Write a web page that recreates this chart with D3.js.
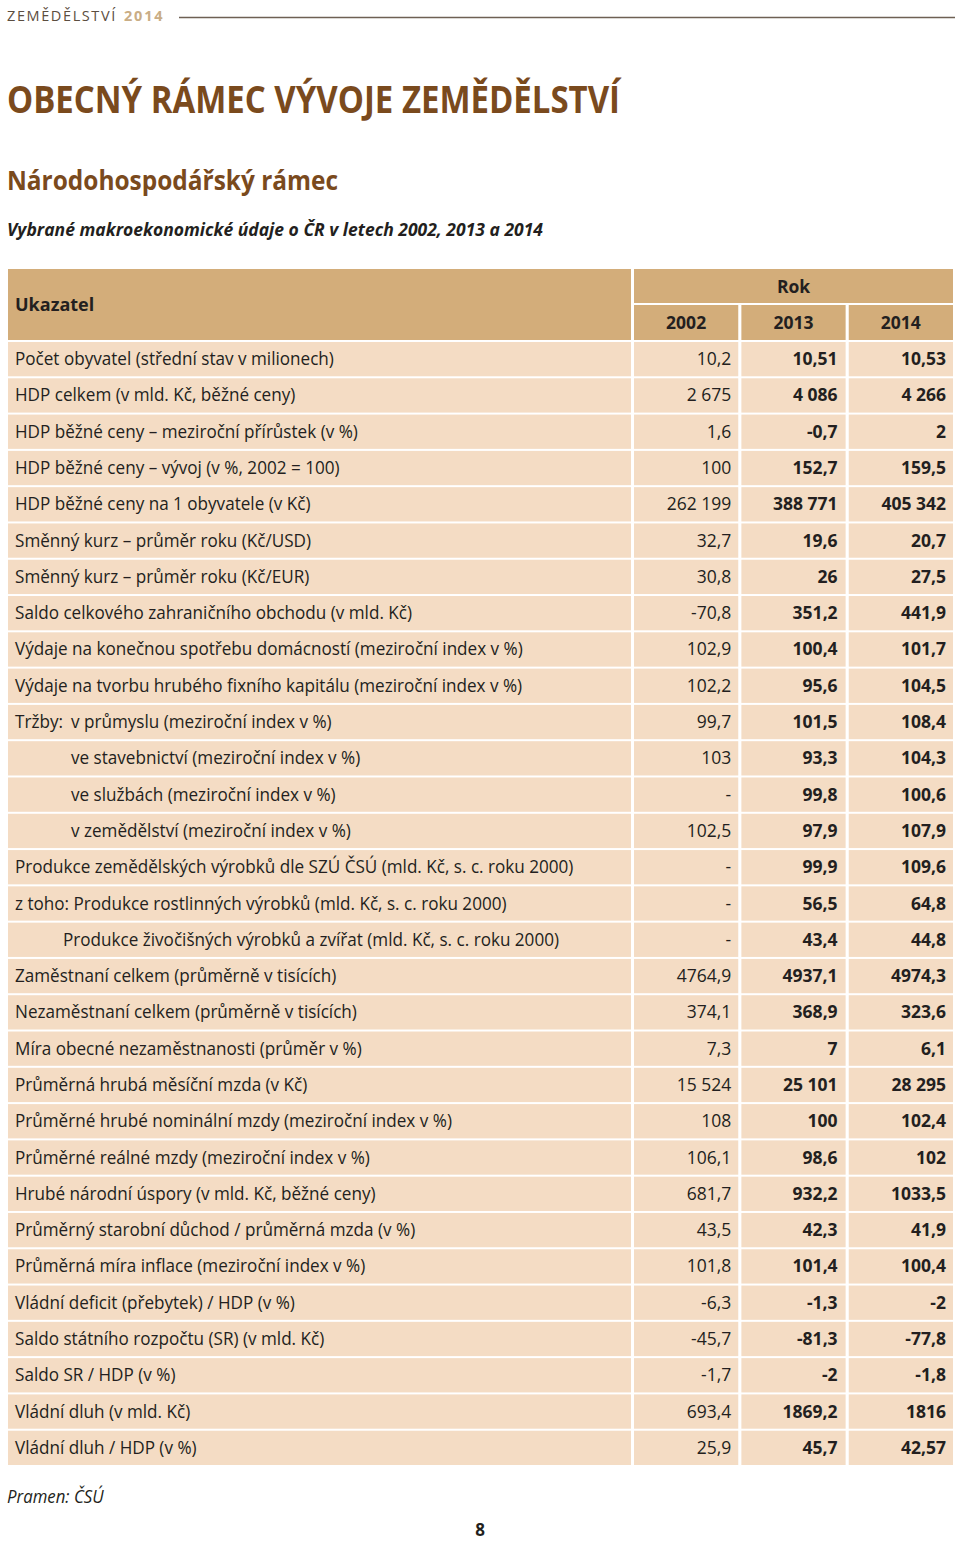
<!DOCTYPE html>
<html>
<head>
<meta charset="utf-8">
<script src="https://cdn.jsdelivr.net/npm/d3@7"></script>
<style>
  html, body { margin: 0; padding: 0; background: #fff; }
  svg { display: block; }
  text { font-family: "Open Sans", "Noto Sans", sans-serif; }
</style>
</head>
<body>
<svg id="chart" width="960" height="1541"></svg>
<script>
// ---------- DATA ----------
const years = ["2002", "2013", "2014"];

const indicators = [
  "Počet obyvatel (střední stav v milionech)",
  "HDP celkem (v mld. Kč, běžné ceny)",
  "HDP běžné ceny – meziroční přírůstek (v %)",
  "HDP běžné ceny – vývoj (v %, 2002 = 100)",
  "HDP běžné ceny na 1 obyvatele (v Kč)",
  "Směnný kurz – průměr roku (Kč/USD)",
  "Směnný kurz – průměr roku (Kč/EUR)",
  "Saldo celkového zahraničního obchodu (v mld. Kč)",
  "Výdaje na konečnou spotřebu domácností (meziroční index v %)",
  "Výdaje na tvorbu hrubého fixního kapitálu (meziroční index v %)",
  "Tržby:|v průmyslu (meziroční index v %)",
  "ve stavebnictví (meziroční index v %)",
  "ve službách (meziroční index v %)",
  "v zemědělství (meziroční index v %)",
  "Produkce zemědělských výrobků dle SZÚ ČSÚ (mld. Kč, s. c. roku 2000)",
  "z toho: Produkce rostlinných výrobků (mld. Kč, s. c. roku 2000)",
  "Produkce živočišných výrobků a zvířat (mld. Kč, s. c. roku 2000)",
  "Zaměstnaní celkem (průměrně v tisících)",
  "Nezaměstnaní celkem (průměrně v tisících)",
  "Míra obecné nezaměstnanosti (průměr v %)",
  "Průměrná hrubá měsíční mzda (v Kč)",
  "Průměrné hrubé nominální mzdy (meziroční index v %)",
  "Průměrné reálné mzdy (meziroční index v %)",
  "Hrubé národní úspory (v mld. Kč, běžné ceny)",
  "Průměrný starobní důchod / průměrná mzda (v %)",
  "Průměrná míra inflace (meziroční index v %)",
  "Vládní deficit (přebytek) / HDP (v %)",
  "Saldo státního rozpočtu (SR) (v mld. Kč)",
  "Saldo SR / HDP (v %)",
  "Vládní dluh (v mld. Kč)",
  "Vládní dluh / HDP (v %)"
];

const values2002 = ["10,2","2 675","1,6","100","262 199","32,7","30,8","-70,8","102,9","102,2",
  "99,7","103","-","102,5","-","-","-","4764,9","374,1","7,3","15 524","108","106,1","681,7",
  "43,5","101,8","-6,3","-45,7","-1,7","693,4","25,9"];
const values2013 = ["10,51","4 086","-0,7","152,7","388 771","19,6","26","351,2","100,4","95,6",
  "101,5","93,3","99,8","97,9","99,9","56,5","43,4","4937,1","368,9","7","25 101","100","98,6","932,2",
  "42,3","101,4","-1,3","-81,3","-2","1869,2","45,7"];
const values2014 = ["10,53","4 266","2","159,5","405 342","20,7","27,5","441,9","101,7","104,5",
  "108,4","104,3","100,6","107,9","109,6","64,8","44,8","4974,3","323,6","6,1","28 295","102,4","102","1033,5",
  "41,9","100,4","-2","-77,8","-1,8","1816","42,57"];

const seriesValues = [values2002, values2013, values2014];

// ---------- LAYOUT ----------
const svg = d3.select("#chart");
const tableLeft = 8, tableRight = 953, labelRight = 631;
const headTop = 269, headMid = 303, headBottom = 340;
const bodyTop = 342, bodyBottom = 1463;

const colors = {
  head: "#d3ad7a",
  row: "#f4dcc4",
  brown: "#7a4a1d",
  text: "#231f20",
  tan: "#c9ad85",
  grey: "#5b4d40"
};

const x = d3.scaleBand().domain(years).range([634, tableRight]).paddingInner(0.029);
const rowIdx = d3.range(indicators.length);
const y = d3.scaleBand().domain(rowIdx).range([bodyTop, bodyBottom + 2]).paddingInner(0.055).paddingOuter(0);

// ---------- TOP HEADER ----------
svg.append("text").attr("x", 7).attr("y", 21)
  .attr("font-size", 14.5).attr("letter-spacing", 1.6).attr("fill", colors.grey)
  .text("ZEMĚDĚLSTVÍ");
svg.append("text").attr("x", 124).attr("y", 21)
  .attr("font-size", 14.5).attr("font-weight", 700).attr("letter-spacing", 1.8).attr("fill", colors.tan)
  .text("2014");
svg.append("line").attr("x1", 179).attr("x2", 955).attr("y1", 17.5).attr("y2", 17.5)
  .attr("stroke", "#6e6054").attr("stroke-width", 1.4);

// ---------- TITLES ----------
svg.append("text").attr("x", 7).attr("y", 113)
  .attr("font-size", 38).attr("font-weight", 700).attr("fill", colors.brown)
  .attr("textLength", 613).attr("lengthAdjust", "spacingAndGlyphs")
  .text("OBECNÝ RÁMEC VÝVOJE ZEMĚDĚLSTVÍ");
svg.append("text").attr("x", 7).attr("y", 190)
  .attr("font-size", 26).attr("font-weight", 700).attr("fill", colors.brown)
  .attr("textLength", 331).attr("lengthAdjust", "spacingAndGlyphs")
  .text("Národohospodářský rámec");
svg.append("text").attr("x", 7).attr("y", 236)
  .attr("font-size", 17).attr("font-weight", 700).attr("font-style", "italic").attr("fill", colors.text)
  .attr("textLength", 536).attr("lengthAdjust", "spacingAndGlyphs")
  .text("Vybrané makroekonomické údaje o ČR v letech 2002, 2013 a 2014");

// ---------- TABLE HEADER ----------
const head = svg.append("g");
head.append("rect").attr("x", tableLeft).attr("y", headTop)
  .attr("width", labelRight - tableLeft).attr("height", headBottom - headTop).attr("fill", colors.head);
head.append("rect").attr("x", x.range()[0]).attr("y", headTop)
  .attr("width", tableRight - x.range()[0]).attr("height", headMid - headTop).attr("fill", colors.head);
head.selectAll("rect.yr").data(years).join("rect").attr("class", "yr")
  .attr("x", d => x(d)).attr("y", headMid + 2)
  .attr("width", x.bandwidth()).attr("height", headBottom - headMid - 2).attr("fill", colors.head);

function condense(factor) {
  return sel => sel.each(function() {
    const len = this.getComputedTextLength();
    d3.select(this).attr("textLength", len * factor).attr("lengthAdjust", "spacingAndGlyphs");
  });
}
const labelFactor = 0.95;

head.append("text").attr("x", 15).attr("y", 311)
  .attr("font-size", 18).attr("font-weight", 700).attr("fill", colors.text)
  .text("Ukazatel");
head.append("text").attr("x", (x.range()[0] + tableRight) / 2).attr("y", 293)
  .attr("text-anchor", "middle")
  .attr("font-size", 17.5).attr("font-weight", 700).attr("fill", colors.text)
  .text("Rok");
head.selectAll("text.yr").data(years).join("text").attr("class", "yr")
  .attr("x", d => x(d) + x.bandwidth() / 2).attr("y", 329)
  .attr("text-anchor", "middle")
  .attr("font-size", 17.5).attr("font-weight", 700).attr("fill", colors.text)
  .text(d => d);

// ---------- TABLE BODY ----------
const indentX = { 11: 71, 12: 71, 13: 71, 16: 63 };
const rows = svg.append("g").selectAll("g.row").data(rowIdx).join("g").attr("class", "row");

rows.append("rect").attr("x", tableLeft).attr("y", d => y(d))
  .attr("width", labelRight - tableLeft).attr("height", y.bandwidth()).attr("fill", colors.row);

rows.selectAll("rect.v").data(d => years.map(yr => ({ r: d, yr })))
  .join("rect").attr("class", "v")
  .attr("x", c => x(c.yr)).attr("y", c => y(c.r))
  .attr("width", x.bandwidth()).attr("height", y.bandwidth()).attr("fill", colors.row);

rows.each(function(d) {
  const g = d3.select(this);
  const cy = y(d) + y.bandwidth() / 2 + 6;
  const label = indicators[d];
  if (label.includes("|")) {
    const [pre, rest] = label.split("|");
    g.append("text").attr("x", 15).attr("y", cy).attr("font-size", 18).attr("fill", colors.text)
      .text(pre).call(condense(labelFactor));
    g.append("text").attr("x", 71).attr("y", cy).attr("font-size", 18).attr("fill", colors.text)
      .text(rest).call(condense(labelFactor));
  } else {
    g.append("text").attr("x", indentX[d] || 15).attr("y", cy)
      .attr("font-size", 18).attr("fill", colors.text)
      .text(label).call(condense(labelFactor));
  }
  years.forEach((yr, i) => {
    g.append("text")
      .attr("x", x(yr) + x.bandwidth() - (i === 1 ? 8 : 7)).attr("y", cy)
      .attr("text-anchor", "end")
      .attr("font-size", 17.5).attr("font-weight", i === 0 ? 400 : 700)
      .attr("fill", colors.text)
      .text(seriesValues[i][d]);
  });
});

// ---------- FOOTER ----------
svg.append("text").attr("x", 7).attr("y", 1503)
  .attr("font-size", 17.5).attr("font-style", "italic").attr("fill", colors.text)
  .text("Pramen: ČSÚ").call(condense(0.96));
svg.append("text").attr("x", 480).attr("y", 1536).attr("text-anchor", "middle")
  .attr("font-size", 17).attr("font-weight", 700).attr("fill", colors.text)
  .text("8");
</script>
</body>
</html>
